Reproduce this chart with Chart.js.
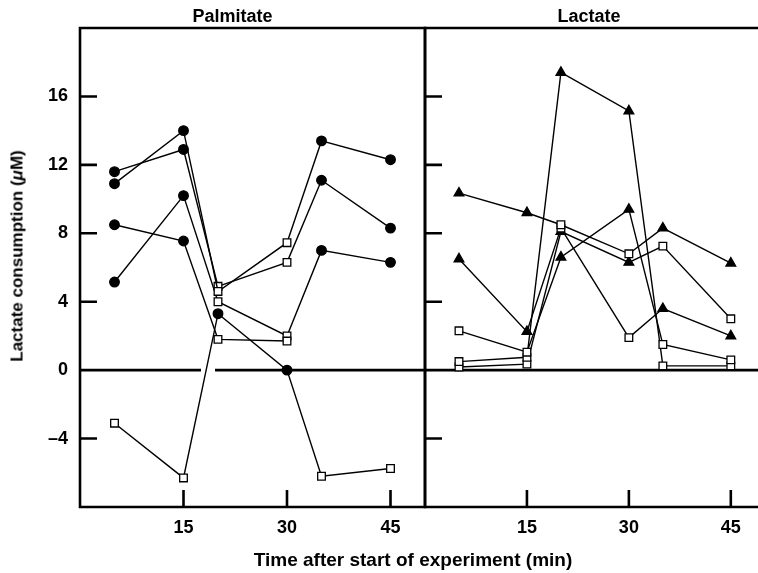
<!DOCTYPE html>
<html>
<head>
<meta charset="utf-8">
<script src="https://cdn.jsdelivr.net/npm/chart.js@4.4.0/dist/chart.umd.min.js"></script>
<style>
  body { margin: 0; background: #fff; }
  #wrap { position: relative; width: 758px; height: 573px; overflow: hidden; background: #fff;
          font-family: "Liberation Sans", Arial, sans-serif; color: #000; }
  #leftBox { position: absolute; left: 0; top: 0; width: 428px; height: 573px; }
  #rightBox { position: absolute; left: 420px; top: 0; width: 338px; height: 573px; }
  .xtitle { position: absolute; left: 0; width: 826px; top: 550px; text-align: center;
            font-weight: bold; font-size: 19px; line-height: 1; white-space: nowrap; }
  .ytitle { position: absolute; left: 17px; top: 256px; transform: translate(-50%, -50%) rotate(-90deg);
            font-weight: bold; font-size: 17px; line-height: 1; white-space: nowrap; }
</style>
</head>
<body>
<div id="wrap">
  <div id="leftBox"><canvas id="palmitate"></canvas></div>
  <div id="rightBox"><canvas id="lactate"></canvas></div>
  <div class="ytitle">Lactate consumption (<i>μ</i>M)</div>
  <div class="xtitle">Time after start of experiment (min)</div>
</div>
<script>
// sampling times (min)
var times = [5, 15, 20, 30, 35, 45];
var xTicks = [15, 30, 45];
var yTicks = [16, 12, 8, 4, 0, -4];

// Palmitate panel
var palm1 = [10.9, 14.0, 4.6, 7.45, 13.4, 12.3];
var palm2 = [11.6, 12.9, 4.9, 6.3, 11.1, 8.3];
var palm3 = [8.5, 7.55, 1.8, 1.7, null, null];
var palm4 = [5.15, 10.2, 4.0, 2.0, 7.0, 6.3];
var palm5 = [-3.1, -6.3, 3.3, 0, -6.2, -5.75];

// Lactate panel
var lact1 = [10.35, 9.2, 8.5, 6.8, 8.3, 6.25];
var lact2 = [6.5, 2.25, 8.3, 1.9, 3.6, 2.0];
var lact3 = [2.3, 1.05, 6.6, 9.4, 1.5, 0.6];
var lact4 = [0.5, 0.75, 17.4, 15.15, 0.25, 0.25];
var lact5 = [0.18, 0.35, 8.1, 6.3, 7.25, 3.0];

// marker codes: c = filled circle, t = filled triangle, s = open square
var palmMarks = ['ccsscc', 'ccsscc', 'ccsscc', 'ccsscc', 'ssccss'];
var lactMarks = ['ttsstt', 'ttsstt', 'ssttss', 'ssttss', 'ssttss'];

function markStyle(code) {
  return code.split('').map(function(c){
    return c == 's' ? 'rect' : (c == 't' ? 'triangle' : 'circle');
  });
}
function markFill(code) {
  return code.split('').map(function(c){ return c == 's' ? '#fff' : '#000'; });
}
function markSize(code) {
  return code.split('').map(function(c){ return c == 's' ? 5.4 : (c == 't' ? 5.6 : 4.8); });
}

function makeSets(series, marks) {
  var sets = [];
  for (var i = 0; i < series.length; i++) {
    var pts = [];
    for (var j = 0; j < times.length; j++) {
      pts.push({x: times[j], y: series[i][j]});
    }
    sets.push({
      data: pts,
      borderColor: '#000',
      borderWidth: 1.4,
      tension: 0,
      spanGaps: false,
      pointStyle: markStyle(marks[i]),
      pointRadius: markSize(marks[i]),
      pointBackgroundColor: markFill(marks[i]),
      pointBorderColor: '#000',
      pointBorderWidth: 1.3,
      clip: false
    });
  }
  return sets;
}

// frame, inward ticks and zero line
var framePlugin = {
  id: 'frame',
  beforeDatasetsDraw: function(chart, args, opts) {
    var ctx = chart.ctx, a = chart.chartArea;
    var xs = chart.scales.x, ys = chart.scales.y;
    var right = opts.closed ? a.right : chart.width;
    ctx.save();
    ctx.strokeStyle = '#000';
    ctx.lineWidth = 2.6;
    ctx.lineCap = 'butt';

    var y0 = ys.getPixelForValue(0);
    ctx.setLineDash(opts.dash || []);
    ctx.beginPath(); ctx.moveTo(a.left, y0); ctx.lineTo(right, y0); ctx.stroke();
    ctx.setLineDash([]);

    ctx.beginPath();
    if (opts.closed) {
      ctx.rect(a.left, a.top, a.right - a.left, a.bottom - a.top);
    } else {
      ctx.moveTo(right, a.top); ctx.lineTo(a.left, a.top);
      ctx.lineTo(a.left, a.bottom); ctx.lineTo(right, a.bottom);
    }
    ctx.stroke();

    ctx.beginPath();
    yTicks.forEach(function(v){
      if (v == 0) return;
      var p = ys.getPixelForValue(v);
      ctx.moveTo(a.left, p); ctx.lineTo(a.left + 17, p);
    });
    xTicks.forEach(function(v){
      var p = xs.getPixelForValue(v);
      ctx.moveTo(p, a.bottom); ctx.lineTo(p, a.bottom - 17);
    });
    ctx.stroke();
    ctx.restore();
  }
};

function tickLabel(v) {
  return v < 0 ? '\u2013' + Math.abs(v) : '' + v;
}

function makeChart(id, title, series, marks, opt) {
  var ctx = document.getElementById(id);
  return new Chart(ctx, {
    type: 'line',
    data: { datasets: makeSets(series, marks) },
    plugins: [framePlugin],
    options: {
      responsive: true,
      maintainAspectRatio: false,
      animation: false,
      events: [],
      layout: {
        autoPadding: false,
        padding: { left: opt.padLeft, right: opt.padRight, top: 0, bottom: 0 }
      },
      plugins: {
        legend: { display: false },
        tooltip: { enabled: false },
        title: {
          display: true,
          text: title,
          color: '#000',
          font: { family: '"Liberation Sans", Arial, sans-serif', size: 18, weight: 'bold' },
          padding: { top: 6, bottom: 0.4 }
        },
        frame: { closed: opt.closed, dash: opt.dash }
      },
      scales: {
        x: {
          type: 'linear',
          min: 0,
          max: opt.xMax,
          grid: { display: false, drawTicks: false },
          border: { display: false },
          afterBuildTicks: function(s){ s.ticks = xTicks.map(function(v){ return {value: v}; }); },
          afterFit: function(s){
            s.height = 66;
            s.paddingLeft = 0; s.paddingRight = 0;
          },
          ticks: {
            color: '#000',
            padding: 10,
            maxRotation: 0,
            font: { family: '"Liberation Sans", Arial, sans-serif', size: 18, weight: 'bold' }
          }
        },
        y: {
          type: 'linear',
          min: -8,
          max: 20,
          grid: { display: false, drawTicks: false },
          border: { display: false },
          afterBuildTicks: function(s){ s.ticks = yTicks.map(function(v){ return {value: v}; }); },
          afterFit: function(s){
            s.width = opt.yWidth;
            s.paddingTop = 0; s.paddingBottom = 0;
          },
          ticks: {
            display: opt.yLabels,
            color: '#000',
            padding: 12,
            callback: tickLabel,
            font: { family: '"Liberation Sans", Arial, sans-serif', size: 18, weight: 'bold' }
          }
        }
      }
    }
  });
}

makeChart('palmitate', 'Palmitate', [palm1, palm2, palm3, palm4, palm5], palmMarks,
  { padLeft: 40, padRight: 3, yWidth: 40, xMax: 50, yLabels: true, closed: true, dash: [121, 14, 1000] });
makeChart('lactate', 'Lactate', [lact1, lact2, lact3, lact4, lact5], lactMarks,
  { padLeft: 0, padRight: 0, yWidth: 5, xMax: 49, yLabels: false, closed: false, dash: [] });
</script>
</body>
</html>
